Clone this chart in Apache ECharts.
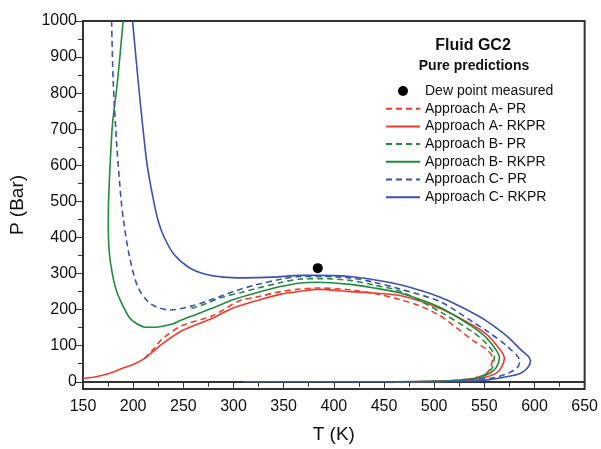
<!DOCTYPE html>
<html>
<head>
<meta charset="utf-8">
<script src="https://cdn.jsdelivr.net/npm/echarts@6/dist/echarts.min.js"></script>
<style>
  html, body { margin: 0; padding: 0; background: #fff; }
  #chart-container { width: 601px; height: 449px; }
</style>
</head>
<body>
<div id="chart-container"></div>
<script>
// [T (K), P (Bar)]
const dewPoint = [[384, 315]];

const approachA_PR = [[211,64],[220,90],[229,119],[249,156],[279,183],[307,226],[322,234],[347,250],[367,257],[384,260],[416,255],[440,245],[466,228],[486,210],[506,183],[522,150],[539,114],[552,90],[558.5,66],[556,40],[552,23],[540,10],[529,5],[500,1],[460,0]];

const approachA_RKPR = [[150,9],[163,14],[175,22],[189,37],[200,48],[211,64],[220,84],[229,105],[249,142],[279,176],[300,205],[322,224],[347,243],[367,251],[384,256],[416,250],[440,246],[466,239],[506,203],[539,156],[552,132],[562,102],[570,66],[567,40],[562,24],[550,12],[536,5],[500,1],[460,0]];

const approachB_PR = [[258,203],[272,216],[287,233],[307,247],[322,258],[347,275],[367,285],[384,286],[416,281],[440,268],[466,251],[506,194],[539,137],[552,106],[560,70],[558,40],[553,23],[540,10],[500,1],[460,0]];

const approachB_RKPR = [[190,1000],[184.4,833],[179.4,714],[177,600],[175.5,504],[175.2,450],[175.4,398],[176.5,350],[178.8,307],[182,265],[186,233],[196,179],[204,160],[213,151],[225,152],[239,160],[247,170],[262,186],[280,205],[300,228],[322,246],[347,264],[367,274],[384,276],[416,270],[440,260],[466,246],[506,206],[539,151],[552,122],[565,66],[562,40],[556,25],[545,12],[530,5],[500,1],[460,0]];

const approachC_PR = [[178.5,1000],[180.1,833],[183.8,650],[188,504],[190.5,445],[196,352],[205,261],[218,215],[237,199],[257,209],[272,222],[287,237],[302,252],[320,267],[347,284],[367,292],[384,292],[416,288],[440,276],[466,257],[506,222],[539,165],[552,142],[572,100],[585.4,57],[583,40],[574,24],[560,12],[539,6],[510,1],[460,0]];

const approachC_RKPR = [[199.4,1000],[205,833],[209.3,714],[214,600],[220.5,500],[225,445],[231,400],[241,352],[256,316],[272,298],[290,290],[310,288],[340,290],[367,295],[384,295],[416,292],[440,283],[466,269],[490,250],[506,234],[522,214],[539,190],[552,169],[572,128],[586,90],[594,70],[596,58],[593,38],[585,22],[572,14],[555,6],[539,2],[510,0.5],[470,0],[400,0],[310,0]];

const yLabels = [0, 100, 200, 300, 400, 500, 600, 700, 800, 900, 1000];
const yMinorTicks = [50, 150, 250, 350, 450, 550, 650, 750, 850, 950];

const RED = '#ef3b2c', GREEN = '#1f8c3e', BLUE = '#3c52b2';
const FONT = 'Liberation Sans';

const lineSeries = (name, data, color, dashed) => ({
	name: name,
	type: 'line',
	data: data,
	showSymbol: false,
	symbol: 'none',
	smooth: 0.3,
	lineStyle: { color: color, width: 1.6, type: dashed ? [6, 4] : 'solid' },
	itemStyle: { color: color },
	z: 3
});

// legend entries for the curves: line only, no marker
const lineNames = ['Approach A- PR', 'Approach A- RKPR', 'Approach B- PR',
	'Approach B- RKPR', 'Approach C- PR', 'Approach C- RKPR'];

const myChart = echarts.init(document.getElementById('chart-container'));
const option = {
	animation: false,
	textStyle: { fontFamily: FONT },
	title: [
		{ text: 'Fluid GC2', left: 468, top: 33, textAlign: 'center',
		  textStyle: { fontFamily: FONT, fontSize: 16, fontWeight: 'bold', color: '#111' } },
		{ text: 'Pure predictions', left: 469, top: 54, textAlign: 'center',
		  textStyle: { fontFamily: FONT, fontSize: 14, fontWeight: 'bold', color: '#111' } }
	],
	legend: {
		orient: 'vertical',
		left: 380,
		top: 79,
		itemWidth: 34,
		itemHeight: 10,
		itemGap: 3.7,
		textStyle: { fontFamily: FONT, fontSize: 14, color: '#111', lineHeight: 14 },
		data: [{ name: 'Dew point measured' }].concat(
			lineNames.map(n => ({ name: n, itemStyle: { opacity: 0 } })))
	},
	grid: {
		left: 82, right: 15, top: 21, bottom: 57,
		show: true, borderColor: '#333', borderWidth: 2
	},
	xAxis: {
		type: 'value',
		min: 150, max: 650, interval: 50,
		name: 'T (K)',
		nameLocation: 'middle',
		nameGap: 36,
		nameTextStyle: { fontFamily: FONT, fontSize: 19, color: '#111' },
		axisLine: { show: true, lineStyle: { color: '#333', width: 2 } },
		axisTick: { show: true, length: 6, lineStyle: { color: '#333', width: 1 } },
		minorTick: { show: true, splitNumber: 2, length: 5, lineStyle: { color: '#333', width: 1 } },
		axisLabel: { fontFamily: FONT, fontSize: 16, color: '#111', margin: 10, formatter: v => String(v) },
		splitLine: { show: false }
	},
	yAxis: [
		{
			type: 'value',
			min: -20, max: 1000,
			name: 'P (Bar)',
			nameLocation: 'middle',
			nameGap: 56,
			nameTextStyle: { fontFamily: FONT, fontSize: 19, color: '#111' },
			axisLine: { show: true, lineStyle: { color: '#333', width: 2 } },
			axisTick: { show: true, length: 8, customValues: yLabels, lineStyle: { color: '#333', width: 1 } },
			axisLabel: { fontFamily: FONT, fontSize: 16, color: '#111', margin: 6, customValues: yLabels, formatter: v => String(v) },
			splitLine: { show: false }
		},
		{
			type: 'value',
			min: -20, max: 1000,
			position: 'left',
			axisLine: { show: false },
			axisTick: { show: true, length: 5, customValues: yMinorTicks, lineStyle: { color: '#333', width: 1 } },
			axisLabel: { show: false },
			splitLine: { show: false }
		}
	],
	series: [
		{
			name: 'Dew point measured',
			type: 'scatter',
			data: dewPoint,
			symbol: 'circle',
			symbolSize: 10,
			itemStyle: { color: '#000', opacity: 1 },
			z: 5
		},
		lineSeries(lineNames[0], approachA_PR, RED, true),
		lineSeries(lineNames[1], approachA_RKPR, RED, false),
		lineSeries(lineNames[2], approachB_PR, GREEN, true),
		lineSeries(lineNames[3], approachB_RKPR, GREEN, false),
		lineSeries(lineNames[4], approachC_PR, BLUE, true),
		lineSeries(lineNames[5], approachC_RKPR, BLUE, false)
	]
};
myChart.setOption(option);
</script>
</body>
</html>
